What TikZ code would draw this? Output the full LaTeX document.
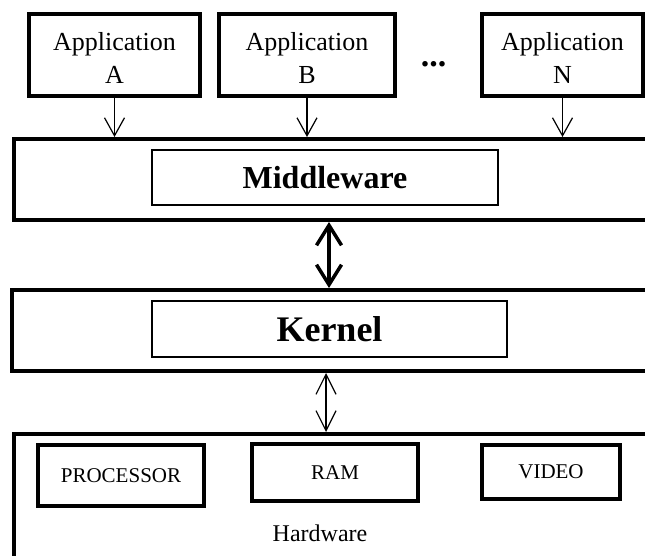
\documentclass[tikz,border=0pt]{standalone}
\usepackage{fontspec}
\setmainfont{Liberation Serif}
\usetikzlibrary{arrows.meta}
\usetikzlibrary{positioning}
\tikzstyle{layer}=[draw,line width=4pt,minimum height=81pt,inner sep=0pt]
\tikzstyle{part}=[draw,line width=4pt,inner sep=0pt,font=\fontsize{21}{24}\selectfont]
\newcommand{\apptext}[1]{\rule{0pt}{24pt}Application\\#1}

\begin{document}
\begin{tikzpicture}[x=1pt,y=-1pt,
  appbox/.style={draw,line width=4pt,minimum height=82pt,inner sep=0pt,align=center,font=\fontsize{26}{33}\selectfont},
  title/.style={draw,line width=1.2pt,inner sep=0pt},
  flow/.style={line width=1.2pt,-{Straight Barb[length=18pt,width=20pt]}},
  link/.style={line width=1.2pt,{Straight Barb[length=20pt,width=20pt]}-{Straight Barb[length=20pt,width=20pt]}},
  biglink/.style={line width=3.5pt,{Straight Barb[length=20pt,width=25pt]}-{Straight Barb[length=20pt,width=25pt]}}]
\useasboundingbox (0,0) rectangle (645,556);
\clip (0,0) rectangle (645,556);
% applications on top
\node [appbox,minimum width=171pt] (appA) at (114.5,55) {\apptext{A}};
\node [appbox,minimum width=176pt] (appB) at (307,55) {\apptext{B}};
\node [appbox,minimum width=161pt] (appN) at (562.5,55) {\apptext{N}};
\node [anchor=base,inner sep=0pt,font=\fontsize{34}{34}\selectfont\bfseries] (dots) at (433.5,67) {...};
% middleware layer
\node [layer,minimum width=686pt] (mw) at (357,179.5) {};
\node [title,minimum width=346pt,minimum height=55pt,font=\fontsize{32}{36}\selectfont\bfseries] (mwin) at (325,177.5) {Middleware};
% kernel layer
\node [layer,minimum width=688pt] (kern) at (356,330.5) {};
\node [title,minimum width=355pt,minimum height=56pt,font=\fontsize{36}{40}\selectfont\bfseries] (kin) at (329.5,329) {Kernel};
% hardware
\node [layer,minimum width=686pt,minimum height=166pt] (hw) at (357,517) {};
\node [part,minimum width=166pt,minimum height=61pt] (cpu) at (121,475.5) {PROCESSOR};
\node [part,minimum width=166pt,minimum height=57pt] (ram) at (335,472.5) {RAM};
\node [part,minimum width=138pt,minimum height=54pt] (video) at (551,472) {VIDEO};
\node [font=\fontsize{24}{28}\selectfont] (hwlabel) at (320,533) {Hardware};

\draw [flow] (appA.south) -- (appA.south |- mw.north);
\draw [flow] (appB.south) -- (appB.south |- mw.north);
\draw [flow] (appN.south) -- (appN.south |- mw.north);
\draw [biglink] ([xshift=4pt]mwin.south |- mw.south) -- ([xshift=4pt]mwin.south |- kern.north);
\draw [link] ([xshift=1pt]mwin.south |- kern.south) -- ([xshift=1pt]mwin.south |- hw.north);
\end{tikzpicture}
\end{document}
